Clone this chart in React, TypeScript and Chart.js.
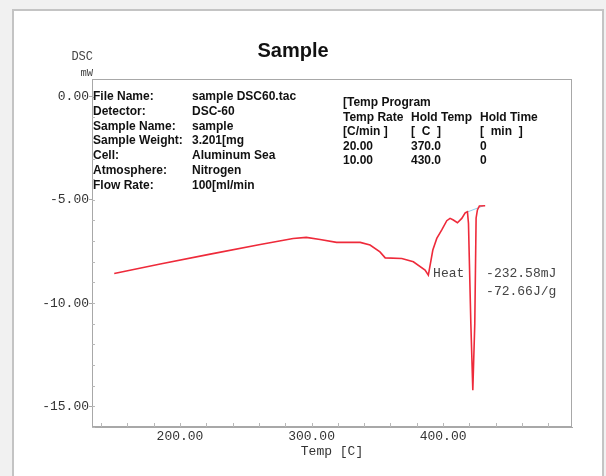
import React, { useEffect, useRef } from "react";
import { Chart, registerables } from "chart.js";

Chart.register(...registerables);

// ---- data ----
const temps = [150, 185, 223, 261, 286, 296, 306.5, 319, 337, 344.5, 352, 356, 368.6, 377.4, 386.3, 388.8, 392.2, 395.2, 399, 402.8, 405.3, 407.8, 410.9, 414.2, 416.8, 418.5, 419.3, 421.1, 422.6, 424.1, 425.1, 426.1, 427.6, 432];
const dsc = [-8.57, -8.11, -7.63, -7.16, -6.87, -6.82, -6.92, -7.06, -7.06, -7.19, -7.52, -7.81, -7.84, -8.0, -8.4, -8.65, -7.43, -6.87, -6.46, -6.01, -5.9, -5.98, -6.11, -5.9, -5.63, -5.58, -6.14, -10.99, -14.22, -10.99, -5.88, -5.49, -5.3, -5.29];
const baseTemps = [416.8, 430.7];
const baseDsc = [-5.63, -5.29];

const xTickValues = [200, 300, 400];
const yTickValues = [0, -5, -10, -15];
const xMinorValues = [140, 160, 180, 200, 220, 240, 260, 280, 300, 320, 340, 360, 380, 400, 420, 440, 460, 480];
const yMinorValues = [-16, -15, -14, -13, -12, -11, -10, -9, -8, -7, -6, -5, -4, -3, -2, -1, 0];

const chartTitle = "Sample";
const yTitle = ["DSC", "mW"];
const xTitle = "Temp [C]";
const infoLabels = ["File Name:", "Detector:", "Sample Name:", "Sample Weight:", "Cell:", "Atmosphere:", "Flow Rate:"];
const infoValues = ["sample DSC60.tac", "DSC-60", "sample", "3.201[mg", "Aluminum Sea", "Nitrogen", "100[ml/min"];
const programRows = [
  ["[Temp Program", "", ""],
  ["Temp Rate", "Hold Temp", "Hold Time"],
  ["[C/min ]", "[  C  ]", "[  min  ]"],
  ["20.00", "370.0", "0"],
  ["10.00", "430.0", "0"],
];
const heatAnchor = { t: 392.4, v: -8.55 };
const heatLabel = "Heat";
const resultAnchor = { t: 432.7, v: -8.55 };
const resultLines = ["-232.58mJ", "-72.66J/g"];

const MONO = "'Liberation Mono', 'DejaVu Sans Mono', monospace";
const SANS = "'Liberation Sans', Arial, sans-serif";

const decorPlugin = {
  id: "decor",
  beforeDraw(chart: any) {
    const ctx = chart.ctx;
    const w = chart.width, h = chart.height;
    ctx.save();
    ctx.fillStyle = "#f1f1f1";
    ctx.fillRect(0, 0, w, h);
    ctx.fillStyle = "#ffffff";
    ctx.fillRect(12, 9, 592, 470);
    ctx.strokeStyle = "#c4c4c4";
    ctx.lineWidth = 2;
    ctx.strokeRect(13, 10, 590, 470);
    ctx.restore();
  },
  afterDraw(chart: any) {
    const ctx = chart.ctx;
    const a = chart.chartArea;
    const xs = chart.scales.x, ys = chart.scales.y;
    ctx.save();
    // full plot box
    ctx.strokeStyle = "#a8a8a8";
    ctx.lineWidth = 1;
    ctx.strokeRect(a.left + 0.5, a.top + 0.5, a.right - a.left - 1, a.bottom - a.top - 1);
    // minor ticks (inside)
    ctx.strokeStyle = "#b8b8b8";
    ctx.beginPath();
    xMinorValues.forEach((v) => {
      const px = Math.round(xs.getPixelForValue(v)) + 0.5;
      ctx.moveTo(px, a.bottom);
      ctx.lineTo(px, a.bottom - 4);
    });
    yMinorValues.forEach((v) => {
      const py = Math.round(ys.getPixelForValue(v)) + 0.5;
      ctx.moveTo(a.left, py);
      ctx.lineTo(a.left + 3, py);
    });
    ctx.stroke();

    // title
    ctx.fillStyle = "#111";
    ctx.font = `bold 20px ${SANS}`;
    ctx.textAlign = "center";
    ctx.textBaseline = "middle";
    ctx.fillText(chartTitle, 293, 51);

    // y title
    ctx.fillStyle = "#444";
    ctx.font = `12px ${MONO}`;
    ctx.textAlign = "right";
    ctx.fillText(yTitle[0], 93, 57);
    ctx.font = `10.5px ${MONO}`;
    ctx.fillText(yTitle[1], 93, 73);

    // info block
    ctx.fillStyle = "#111";
    ctx.font = `bold 12px ${SANS}`;
    ctx.textAlign = "left";
    infoLabels.forEach((s, i) => {
      const y = 97 + i * 14.7;
      ctx.fillText(s, a.left + 1, y);
      ctx.fillText(infoValues[i], 192, y);
    });
    const cols = [343, 411, 480];
    programRows.forEach((row, i) => {
      const y = 103 + i * 14.5;
      row.forEach((s, j) => {
        if (s) ctx.fillText(s, cols[j], y);
      });
    });

    // annotations
    ctx.fillStyle = "#444";
    ctx.font = `13px ${MONO}`;
    ctx.fillText(heatLabel, xs.getPixelForValue(heatAnchor.t), ys.getPixelForValue(heatAnchor.v));
    const rx = xs.getPixelForValue(resultAnchor.t);
    const ry = ys.getPixelForValue(resultAnchor.v);
    resultLines.forEach((s, i) => ctx.fillText(s, rx, ry + i * 18));
    ctx.restore();
  },
};

export default function App() {
  const ref = useRef<HTMLCanvasElement>(null);
  useEffect(() => {
    if (!ref.current) return;
    const chart = new Chart(ref.current, {
      type: "line",
      data: {
        datasets: [
          {
            label: "DSC",
            data: temps.map((t, i) => ({ x: t, y: dsc[i] })),
            borderColor: "#ee2a3a",
            borderWidth: 1.6,
            pointRadius: 0,
            tension: 0,
            fill: false,
          },
          {
            label: "baseline",
            data: baseTemps.map((t, i) => ({ x: t, y: baseDsc[i] })),
            borderColor: "#8fd0ee",
            borderWidth: 1,
            pointRadius: 0,
            fill: false,
          },
        ],
      },
      plugins: [decorPlugin],
      options: {
        responsive: false,
        animation: false,
        events: [],
        layout: { padding: { top: 79, right: 34, left: 0, bottom: 0 } },
        plugins: { legend: { display: false }, tooltip: { enabled: false }, title: { display: false } },
        scales: {
          x: {
            type: "linear",
            min: 133.1,
            max: 498,
            afterFit: (s: any) => { s.height = 49; },
            afterBuildTicks: (s: any) => { s.ticks = xTickValues.map((v) => ({ value: v })); },
            grid: { display: false, drawTicks: false },
            border: { display: true, color: "#a8a8a8" },
            ticks: {
              padding: 2,
              color: "#333",
              font: { family: MONO, size: 13 },
              maxRotation: 0,
              autoSkip: false,
              callback: (v: any) => Number(v).toFixed(2),
            },
            title: {
              display: true,
              text: xTitle,
              color: "#333",
              font: { family: MONO, size: 13 },
              padding: { top: 0, bottom: 17 },
            },
          },
          y: {
            type: "linear",
            min: -16,
            max: 0.85,
            afterFit: (s: any) => { s.width = 92; },
            afterBuildTicks: (s: any) => { s.ticks = yTickValues.map((v) => ({ value: v })); },
            grid: { display: true, drawOnChartArea: false, drawTicks: true, tickLength: 3, color: "#a8a8a8" },
            border: { display: true, color: "#a8a8a8" },
            ticks: {
              padding: 0,
              color: "#333",
              font: { family: MONO, size: 13 },
              autoSkip: false,
              callback: (v: any) => Number(v).toFixed(2),
            },
          },
        },
      },
    });
    return () => chart.destroy();
  }, []);
  return (
    <div style={{ position: "fixed", left: 0, top: 0, width: 606, height: 476 }}>
      <canvas ref={ref} width={606} height={476} style={{ width: 606, height: 476, display: "block" }} />
    </div>
  );
}
